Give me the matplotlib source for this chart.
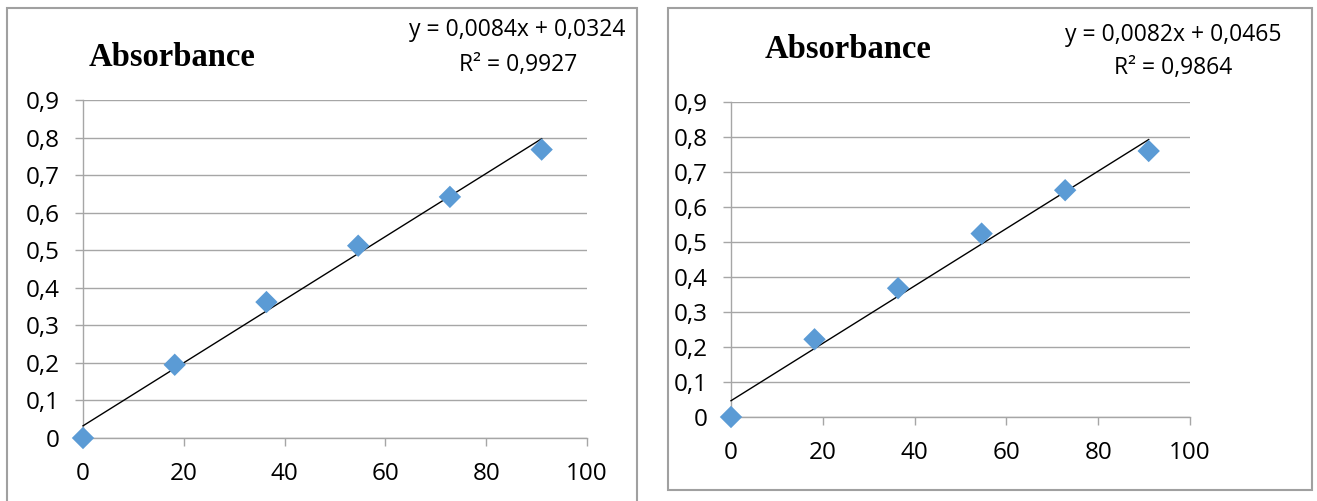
import matplotlib
matplotlib.use("Agg")
import matplotlib.pyplot as plt
from matplotlib.patches import Rectangle
from matplotlib.ticker import FuncFormatter

W, H = 1317, 501

# Calibration data for the two series
concentration = [0, 18.2, 36.4, 54.6, 72.8, 91.0]
absorbance_a = [0.0, 0.195, 0.362, 0.512, 0.642, 0.768]
absorbance_b = [0.0, 0.222, 0.368, 0.524, 0.648, 0.760]

# Linear trendline coefficients (slope, intercept, R²)
fit_a = (0.0084, 0.0324, 0.9927)
fit_b = (0.0082, 0.0465, 0.9864)

title = "Absorbance"
x_ticks = [0, 20, 40, 60, 80, 100]
y_ticks = [0, 0.1, 0.2, 0.3, 0.4, 0.5, 0.6, 0.7, 0.8, 0.9]

MARKER_COLOR = "#5B9BD5"
GRID_COLOR = "#A6A6A6"
TICK_FONT = "Open Sans"


def comma(v, _pos=None):
    s = f"{v:g}"
    return s.replace(".", ",")


def fmt_num(v, nd=4):
    return f"{v:.{nd}f}".replace(".", ",")


def px_rect(x0, y0, x1, y1):
    return [x0 / W, 1 - y1 / H, (x1 - x0) / W, (y1 - y0) / H]


fig = plt.figure(figsize=(W / 100, H / 100), dpi=100)
fig.patch.set_facecolor("white")

panels = [
    dict(frame=(7, 8, 637, 520), plot=(83, 100, 587, 438), data=absorbance_a, fit=fit_a,
         title_xy=(172, 57), eq_xy=(517, 30), r2_xy=(518, 65)),
    dict(frame=(668, 8, 1312, 490), plot=(731, 102, 1190, 417), data=absorbance_b, fit=fit_b,
         title_xy=(848, 50), eq_xy=(1173, 35), r2_xy=(1173, 68)),
]

for p in panels:
    fx0, fy0, fx1, fy1 = p["frame"]
    fig.patches.append(Rectangle((fx0 / W, 1 - fy1 / H), (fx1 - fx0) / W, (fy1 - fy0) / H,
                                 transform=fig.transFigure, fill=False,
                                 edgecolor="#A0A0A0", linewidth=1.5))

    ax = fig.add_axes(px_rect(*p["plot"]))
    ax.set_xlim(0, 100)
    ax.set_ylim(0, 0.9)
    ax.set_xticks(x_ticks)
    ax.set_yticks(y_ticks)
    ax.xaxis.set_major_formatter(FuncFormatter(comma))
    ax.yaxis.set_major_formatter(FuncFormatter(comma))
    ax.grid(axis="y", color=GRID_COLOR, linewidth=1.0)
    ax.set_axisbelow(True)
    for side in ("top", "right"):
        ax.spines[side].set_visible(False)
    for side in ("left", "bottom"):
        ax.spines[side].set_color(GRID_COLOR)
        ax.spines[side].set_linewidth(1.0)
    ax.tick_params(axis="x", direction="out", length=6, width=1.0, color=GRID_COLOR,
                   pad=11, labelsize=17.5)
    ax.tick_params(axis="y", direction="out", length=6, width=1.0, color=GRID_COLOR,
                   pad=11, labelsize=17.5)
    for lab in ax.get_xticklabels() + ax.get_yticklabels():
        lab.set_fontfamily(TICK_FONT)

    slope, intercept, r2 = p["fit"]
    xs = [concentration[0], concentration[-1]]
    ax.plot(xs, [slope * x + intercept for x in xs], color="black", linewidth=1.0,
            zorder=3, clip_on=False)
    ax.scatter(concentration, p["data"], marker="D", s=130, color=MARKER_COLOR,
               edgecolors="none", zorder=4, clip_on=False)

    tx, ty = p["title_xy"]
    fig.text(tx / W, 1 - ty / H, title, ha="center", va="center",
             fontfamily="Liberation Serif", fontweight="bold", fontsize=23.5)
    ex, ey = p["eq_xy"]
    fig.text(ex / W, 1 - ey / H, f"y = {fmt_num(slope)}x + {fmt_num(intercept)}",
             ha="center", va="center", fontfamily=TICK_FONT, fontsize=16.5)
    rx, ry = p["r2_xy"]
    fig.text(rx / W, 1 - ry / H, f"R² = {fmt_num(r2)}",
             ha="center", va="center", fontfamily=TICK_FONT, fontsize=16.5)

fig.savefig("out.png", dpi=100, facecolor="white")
